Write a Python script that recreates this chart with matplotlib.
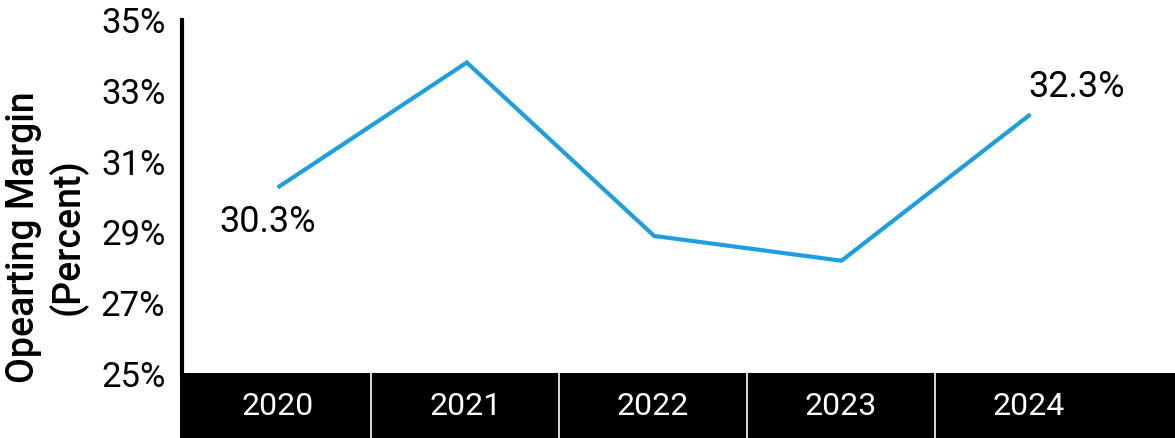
import matplotlib.pyplot as plt
from matplotlib.patches import Rectangle

plt.rcParams['font.family'] = ['Roboto', 'DejaVu Sans']

# --- Data ---
years = ['2020', '2021', '2022', '2023', '2024']
margin = [30.3, 33.8, 28.9, 28.2, 32.3]
y_ticks = [25, 27, 29, 31, 33, 35]
# labelled points: (index, text, dx px, dy px)
labels = [(0, '30.3%', -12, -36), (4, '32.3%', 48, 29)]

line_color = '#1b9fe0'

fig = plt.figure(figsize=(11.75, 4.38), dpi=100)
ax = fig.add_axes([182 / 1175, 1 - 374 / 438, 1 - 182 / 1175, (374 - 20) / 438])

x = list(range(len(years)))
ax.plot(x, margin, color=line_color, lw=3, solid_joinstyle='miter')

for i, txt, dx, dy in labels:
    ax.annotate(txt, (x[i], margin[i]), xytext=(dx * 0.72, dy * 0.72),
                textcoords='offset points', ha='center', va='center', fontsize=26)

ax.set_xlim(-0.52, 4.78)
ax.set_ylim(25, 35)
ax.set_yticks(y_ticks)
ax.set_yticklabels([f'{v}%' for v in y_ticks], fontsize=25)
ax.tick_params(axis='y', length=0, pad=12)
ax.set_xticks([])
for s in ['top', 'right', 'bottom']:
    ax.spines[s].set_visible(False)
ax.spines['left'].set_linewidth(3)
ax.set_ylabel('Opearting Margin\n(Percent)', fontsize=27, fontweight='medium',
              labelpad=10, linespacing=1.15, y=0.387)

# --- black year band below the plot ---
band = fig.add_axes([180 / 1175, 0, 1 - 180 / 1175, 65 / 438])
band.set_xlim(-0.52, 4.78)
band.set_ylim(0, 1)
band.add_patch(Rectangle((-0.52, 0), 5.3, 1, color='black'))
for i in x[:-1]:
    band.axvline(i + 0.5, color='white', lw=1.2)
for i, yr in enumerate(years):
    band.text(i, 0.48, yr, color='white', ha='center', va='center', fontsize=23)
band.axis('off')

fig.savefig('out.png', dpi=100)
